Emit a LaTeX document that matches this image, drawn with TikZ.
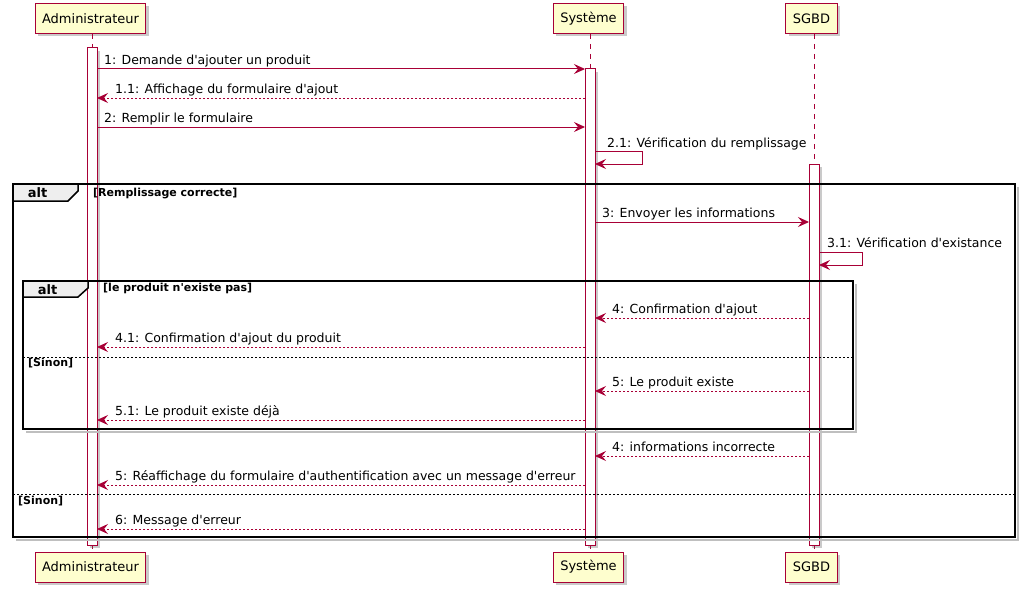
\documentclass[tikz,border=0pt]{standalone}
\usepackage{fontspec}
\setmainfont{DejaVu Sans}
\usetikzlibrary{arrows.meta,shadows}
\definecolor{pu}{HTML}{A80036}
\definecolor{pbox}{HTML}{FEFECE}
\definecolor{tabfill}{HTML}{EEEEEE}
\newcommand\apo{\textquotesingle}
\begin{document}
\begin{tikzpicture}[x=1pt,y=-1pt,
 sh/.style={drop shadow={opacity=0.35,shadow xshift=3pt,shadow yshift=-3pt,fill=black!60}},
 part/.style={draw=pu,fill=pbox,line width=1pt,minimum height=30pt,inner xsep=7pt,inner ysep=0pt,font=\fontsize{13}{15}\selectfont,sh},
 actbar/.style={draw=pu,fill=white,line width=1pt,minimum width=10pt,inner sep=0pt,outer sep=0pt,anchor=north,sh},
 life/.style={draw=pu,line width=1pt,dash pattern=on 5pt off 5pt},
 msg/.style={draw=pu,line width=1pt,-{Stealth[length=11pt,width=10pt,inset=4pt]}},
 rmsg/.style={msg,dash pattern=on 2pt off 2pt},
 mlab/.style={anchor=base west,inner sep=0pt,font=\fontsize{12.5}{15}\selectfont},
 glab/.style={anchor=base west,inner sep=0pt,font=\fontsize{11}{13}\selectfont\bfseries},
 tablab/.style={inner sep=0pt,font=\fontsize{13}{15}\selectfont\bfseries},
 frame/.style={draw=black,line width=1.5pt},
 fshadow/.style={draw=black!25,line width=2.5pt},
 sep/.style={draw=black,line width=1pt,dash pattern=on 2pt off 2pt}
]
\useasboundingbox (0,0) rectangle (1025,594);
% participants
\node[part] (pA) at (90.5,18.5) {Administrateur};
\node[part] (pS) at (588.5,18.5) {Système};
\node[part] (pD) at (811.5,18.5) {SGBD};
\node[part] (qA) at (90.5,567) {Administrateur};
\node[part] (qS) at (588.5,567) {Système};
\node[part] (qD) at (811.5,567) {SGBD};
% lifelines
\coordinate (tA) at (92,34); \coordinate (bA) at (92,552);
\coordinate (tS) at (590,34); \coordinate (bS) at (590,552);
\coordinate (tD) at (814,34); \coordinate (bD) at (814,552);
\draw[life] (tA) -- (bA);
\draw[life] (tS) -- (bS);
\draw[life] (tD) -- (bD);
% activation bars
\node[actbar,minimum height=497pt] (barA) at (92,48) {};
\node[actbar,minimum height=476pt] (barS) at (590,69) {};
\node[actbar,minimum height=381pt] (barD) at (814,164) {};
% levels
\coordinate (y1) at (0,69); \coordinate (y2) at (0,98); \coordinate (y3) at (0,127);
\coordinate (y4a) at (0,151); \coordinate (y4b) at (0,164);
\coordinate (y5) at (0,222); \coordinate (y6a) at (0,252); \coordinate (y6b) at (0,265);
\coordinate (y7) at (0,318); \coordinate (y8) at (0,347); \coordinate (y9) at (0,391);
\coordinate (y10) at (0,420); \coordinate (y11) at (0,456); \coordinate (y12) at (0,485);
\coordinate (y13) at (0,529);
% frame shadows
\draw[fshadow] (16,540) -- (1018,540) -- (1018,187);
\draw[fshadow] (26,432) -- (856,432) -- (856,284);
% outer frame
\draw[frame] (13,184) rectangle (1015,537);
\draw[frame,fill=tabfill] (13,184) -- (78,184) -- (78,191) -- (68,201) -- (13,201) -- cycle;
\node[tablab] (altO) at (37.5,193) {alt};
\node[glab] (gO) at (93,196) {[Remplissage correcte]};
\draw[sep] (13,494) -- (1015,494);
\node[glab] (gO2) at (18,504) {[Sinon]};
% inner frame
\draw[frame] (23,281) rectangle (853,429);
\draw[frame,fill=tabfill] (23,281) -- (88,281) -- (88,288) -- (78,297) -- (23,297) -- cycle;
\node[tablab] (altI) at (47.5,290) {alt};
\node[glab] (gI) at (103,291) {[le produit n\apo existe pas]};
\draw[sep] (23,357) -- (853,357);
\node[glab] (gI2) at (28,366) {[Sinon]};
% messages
\draw[msg] (barA.east |- y1) -- (barS.west |- y1);
\node[mlab] (l1) at (104,64) {1: Demande d\apo ajouter un produit};
\draw[rmsg] (barS.west |- y2) -- (barA.east |- y2);
\node[mlab] (l2) at (115,93) {1.1: Affichage du formulaire d\apo ajout};
\draw[msg] (barA.east |- y3) -- (barS.west |- y3);
\node[mlab] (l3) at (104,122) {2: Remplir le formulaire};
\draw[msg] (barS.east |- y4a) -- ++(47,0) |- (barS.east |- y4b);
\node[mlab] (l4) at (607,147) {2.1: Vérification du remplissage};
\draw[msg] (barS.east |- y5) -- (barD.west |- y5);
\node[mlab] (l5) at (602,217) {3: Envoyer les informations};
\draw[msg] (barD.east |- y6a) -- ++(43,0) |- (barD.east |- y6b);
\node[mlab] (l6) at (827,247) {3.1: Vérification d\apo existance};
\draw[rmsg] (barD.west |- y7) -- (barS.east |- y7);
\node[mlab] (l7) at (612,313) {4: Confirmation d\apo ajout};
\draw[rmsg] (barS.west |- y8) -- (barA.east |- y8);
\node[mlab] (l8) at (115,342) {4.1: Confirmation d\apo ajout du produit};
\draw[rmsg] (barD.west |- y9) -- (barS.east |- y9);
\node[mlab] (l9) at (612,386) {5: Le produit existe};
\draw[rmsg] (barS.west |- y10) -- (barA.east |- y10);
\node[mlab] (l10) at (115,415) {5.1: Le produit existe déjà};
\draw[rmsg] (barD.west |- y11) -- (barS.east |- y11);
\node[mlab] (l11) at (612,451) {4: informations incorrecte};
\draw[rmsg] (barS.west |- y12) -- (barA.east |- y12);
\node[mlab] (l12) at (115,480) {5: Réaffichage du formulaire d\apo authentification avec un message d\apo erreur};
\draw[rmsg] (barS.west |- y13) -- (barA.east |- y13);
\node[mlab] (l13) at (115,524) {6: Message d\apo erreur};
\end{tikzpicture}
\end{document}
